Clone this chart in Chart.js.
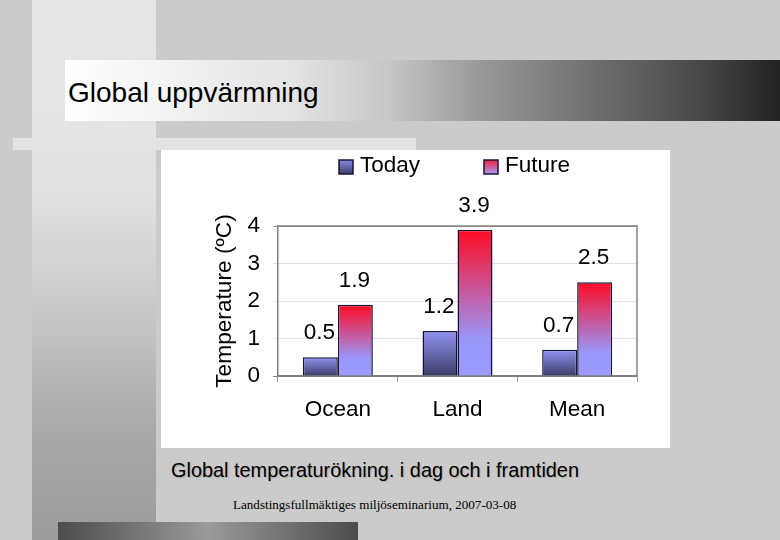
<!DOCTYPE html>
<html>
<head>
<meta charset="utf-8">
<script src="https://cdn.jsdelivr.net/npm/chart.js@4"></script>
<style>
  html, body { margin: 0; padding: 0; }
  body { width: 780px; height: 540px; background: #cbcbcb; position: relative; overflow: hidden; }
  .strip { position: absolute; left: 32px; top: 0; width: 124px; height: 540px;
    background: linear-gradient(to bottom, #e6e6e6 0, #e4e4e4 130px, #e0e0e0 200px, #d0d0d0 280px, #c6c6c6 320px, #b0b0b0 400px, #a5a5a5 460px, #9c9c9c 540px); }
  .band { position: absolute; left: 13px; top: 138px; width: 403px; height: 12px; background: #e3e3e3; }
  .titlebar { position: absolute; left: 65px; top: 60px; width: 715px; height: 61px;
    background: linear-gradient(to right, #fff 0, #e4e4e4 225px, #c8c8c8 320px, #999 415px, #707070 525px, #484848 635px, #222 715px); }
  .title { position: absolute; left: 68px; top: 77px; font: 28px "Liberation Sans", sans-serif; color: #000; white-space: nowrap; }
  .plot { position: absolute; left: 161px; top: 150px; width: 509px; height: 298px; background: #fff; }
  .caption { position: absolute; left: 171px; top: 459px; font: 19.9px "Liberation Sans", sans-serif; color: #000;
    text-shadow: 1px 1px 1px #aaa; white-space: nowrap; }
  .footer { position: absolute; left: 233px; top: 497px; font: 13.1px "Liberation Serif", serif; color: #000; white-space: nowrap; }
  .bottombar { position: absolute; left: 58px; top: 522px; width: 300px; height: 18px;
    background: linear-gradient(to right, #4c4c4c 0, #9a9a9a 50%, #4c4c4c 100%); }
</style>
</head>
<body>
<div class="strip"></div>
<div class="band"></div>
<div class="titlebar"></div>
<div class="title">Global uppvärmning</div>
<div class="plot"><canvas id="chart" width="509" height="298"></canvas></div>
<div class="caption">Global temperaturökning. i dag och i framtiden</div>
<div class="footer">Landstingsfullmäktiges miljöseminarium, 2007-03-08</div>
<div class="bottombar"></div>

<script>
const categories = ['Ocean', 'Land', 'Mean'];
const todayValues = [0.5, 1.2, 0.7];
const futureValues = [1.9, 3.9, 2.5];

const FONT = '"Liberation Sans", Arial, sans-serif';
const todayStops = [[0, '#9494f4'], [1, '#3c3c68']];
const futureStops = [[0, '#ff0a22'], [0.75, '#9a96fa'], [1, '#9a9aff']];
const legendStops = [[[0, '#8a8ae6'], [1, '#3c3c68']], [[0, '#f5203c'], [1, '#a89cf8']]];
const legendBoxX = [178, 323];

function addStops(g, stops) {
  stops.forEach(s => g.addColorStop(s[0], s[1]));
  return g;
}

// gradient runs over the height of each single bar
function barFill(stops) {
  return ctx => {
    const yScale = ctx.chart.scales.y;
    if (!yScale || ctx.raw === undefined) return stops[0][1];
    const top = yScale.getPixelForValue(ctx.raw);
    const base = yScale.getPixelForValue(0);
    // scales have no pixels yet on the first pass
    if (!Number.isFinite(top) || !Number.isFinite(base)) return stops[0][1];
    return addStops(ctx.chart.ctx.createLinearGradient(0, top, 0, base), stops);
  };
}

// plot frame, legend and the offset value labels
const extras = {
  id: 'extras',
  beforeDatasetsDraw(chart) {
    const { ctx, chartArea: a } = chart;
    ctx.save();
    ctx.strokeStyle = '#858585';
    ctx.lineWidth = 1.5;
    ctx.beginPath();
    ctx.moveTo(a.left, a.top);
    ctx.lineTo(a.right, a.top);
    ctx.lineTo(a.right, a.bottom);
    ctx.stroke();
    ctx.restore();
  },
  afterDatasetsDraw(chart) {
    const ctx = chart.ctx;
    ctx.save();
    ctx.font = '22.5px ' + FONT;
    ctx.fillStyle = '#000';
    ctx.textAlign = 'center';
    ctx.textBaseline = 'middle';
    chart.data.datasets.forEach((ds, i) => {
      chart.getDatasetMeta(i).data.forEach((bar, j) => {
        ctx.fillText(ds.data[j].toFixed(1), bar.x - 1, bar.y - 24);
      });
    });

    // the original legend sits tight against its swatches, so it is drawn here
    ctx.textAlign = 'left';
    chart.data.datasets.forEach((ds, i) => {
      const x = legendBoxX[i];
      ctx.fillStyle = addStops(ctx.createLinearGradient(0, 10, 0, 24), legendStops[i]);
      ctx.fillRect(x, 10, 14, 14);
      ctx.strokeStyle = '#14143c';
      ctx.lineWidth = 1.5;
      ctx.strokeRect(x, 10, 14, 14);
      ctx.fillStyle = '#000';
      ctx.fillText(ds.label, x + 21, 16);
    });
    ctx.restore();
  }
};

new Chart(document.getElementById('chart').getContext('2d'), {
  type: 'bar',
  data: {
    labels: categories,
    datasets: [
      { label: 'Today', data: todayValues, backgroundColor: barFill(todayStops), borderColor: '#14143c', borderWidth: 1.5 },
      { label: 'Future', data: futureValues, backgroundColor: barFill(futureStops), borderColor: '#14143c', borderWidth: 1.5 }
    ]
  },
  options: {
    responsive: false,
    animation: false,
    layout: { padding: { left: 50, right: 33, top: 76, bottom: 22 } },
    datasets: { bar: { categoryPercentage: 0.585, barPercentage: 1 } },
    plugins: {
      tooltip: { enabled: false },
      legend: { display: false }
    },
    scales: {
      x: {
        offset: true,
        grid: { display: true, drawOnChartArea: false, offset: true, tickLength: 6, color: '#999' },
        border: { color: '#808080', width: 1.5 },
        ticks: { color: '#000', padding: 14, font: { family: FONT, size: 22.5 } },
        afterFit(scale) { scale.height = 50; }
      },
      y: {
        min: 0,
        max: 4,
        grid: {
          tickLength: 5,
          color: c => (c.tick.value === 4 ? '#858585' : c.tick.value === 0 ? '#808080' : '#e2e2e2')
        },
        border: { color: '#808080', width: 1.5 },
        ticks: { stepSize: 1, color: '#000', padding: 13, font: { family: FONT, size: 22.5 } },
        title: {
          display: true,
          text: 'Temperature (ºC)',
          color: '#000',
          padding: 0,
          font: { family: FONT, size: 22.7 }
        },
        afterFit(scale) { scale.width = 67; }
      }
    }
  },
  plugins: [extras]
});
</script>
</body>
</html>
